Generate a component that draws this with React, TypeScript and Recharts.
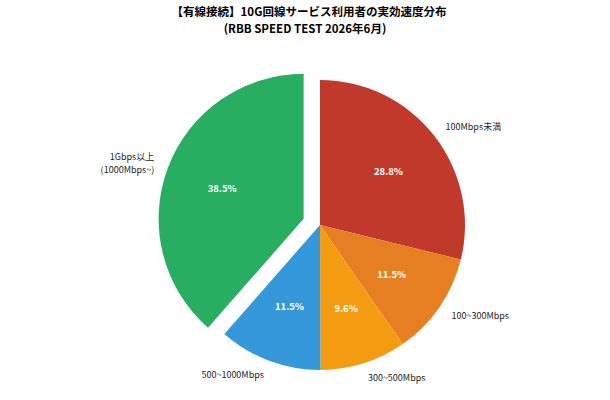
import { PieChart, Pie, Cell } from 'recharts';

// share of 10G line users by measured speed (RBB SPEED TEST 2026/06)
const categories = ['100Mbps未満', '100~300Mbps', '300~500Mbps', '500~1000Mbps', '1Gbps以上\n(1000Mbps~)'];
const shares = [28.8, 11.5, 9.6, 11.5, 38.5];
const colors = ['#c0392b', '#e67e22', '#f39c12', '#3498db', '#27ae60'];

const titleLines = ['【有線接続】10G回線サービス利用者の実効速度分布', '(RBB SPEED TEST 2026年6月)'];

const data = categories.map((name, i) => ({ name, value: shares[i] }));

const EXPLODED = 4;
const CX = 320;
const CY = 225;
const R = 145;
const EXPLODE_DIST = 17.5;
const RAD = Math.PI / 180;

const FONT = '"Noto Sans CJK JP", "Noto Sans", sans-serif';

// angle of the exploded slice's middle, recharts style (counter-clockwise from 3 o'clock)
const total = shares.reduce((a, b) => a + b, 0);
const before = shares.slice(0, EXPLODED).reduce((a, b) => a + b, 0);
const midDeg = 90 - ((before + shares[EXPLODED] / 2) / total) * 360;
const offX = EXPLODE_DIST * Math.cos(midDeg * RAD);
const offY = -EXPLODE_DIST * Math.sin(midDeg * RAD);

const makeLabel = (show: (i: number) => boolean) => (props: any) => {
  const { cx, cy, midAngle, outerRadius, index, value, name } = props;
  if (!show(index)) return null;
  const cos = Math.cos(-midAngle * RAD);
  const sin = Math.sin(-midAngle * RAD);
  const ix = cx + outerRadius * 0.6 * cos;
  const iy = cy + outerRadius * 0.6 * sin;
  const ox = cx + outerRadius * 1.1 * cos;
  const oy = cy + outerRadius * 1.1 * sin;
  const lines = String(name).split('\n');
  const lh = 13;
  return (
    <g>
      <text x={ix} y={iy} fill="#fff" fontSize={9.5} fontWeight="bold" textAnchor="middle" dominantBaseline="central" fontFamily={FONT}>
        {`${Number(value).toFixed(1)}%`}
      </text>
      <text x={ox} y={oy} fill="#222" fontSize={9} textAnchor={cos >= 0 ? 'start' : 'end'} fontFamily={FONT}>
        {lines.map((l, k) => (
          <tspan key={k} x={ox} y={oy + (k - (lines.length - 1) / 2) * lh} dominantBaseline="central">
            {l}
          </tspan>
        ))}
      </text>
    </g>
  );
};

const titleStyle = {
  position: 'absolute' as const,
  left: 0,
  width: 610,
  textAlign: 'center' as const,
  fontFamily: FONT,
  fontWeight: 'bold',
  fontSize: 11.5,
  lineHeight: '17px',
  color: '#000',
  whiteSpace: 'nowrap' as const,
};

export default function App() {
  return (
    <div style={{ position: 'absolute', left: 0, top: 0, width: 610, height: 400, background: '#fff' }}>
      <div style={{ ...titleStyle, top: 3, paddingLeft: 8, boxSizing: 'border-box' }}>{titleLines[0]}</div>
      <div style={{ ...titleStyle, top: 20 }}>{titleLines[1]}</div>
      <div style={{ position: 'absolute', left: 0, top: 0 }}>
        <PieChart width={610} height={400} margin={{ top: 0, right: 0, bottom: 0, left: 0 }}>
          <Pie
            data={data}
            dataKey="value"
            nameKey="name"
            cx={CX}
            cy={CY}
            outerRadius={R}
            startAngle={90}
            endAngle={-270}
            stroke="none"
            labelLine={false}
            label={makeLabel((i) => i !== EXPLODED)}
            isAnimationActive={false}
          >
            {data.map((_, i) => (
              <Cell key={i} fill={i === EXPLODED ? 'transparent' : colors[i]} />
            ))}
          </Pie>
          <Pie
            data={data}
            dataKey="value"
            nameKey="name"
            cx={CX + offX}
            cy={CY + offY}
            outerRadius={R}
            startAngle={90}
            endAngle={-270}
            stroke="none"
            labelLine={false}
            label={makeLabel((i) => i === EXPLODED)}
            isAnimationActive={false}
          >
            {data.map((_, i) => (
              <Cell key={i} fill={i === EXPLODED ? colors[i] : 'transparent'} />
            ))}
          </Pie>
        </PieChart>
      </div>
    </div>
  );
}
